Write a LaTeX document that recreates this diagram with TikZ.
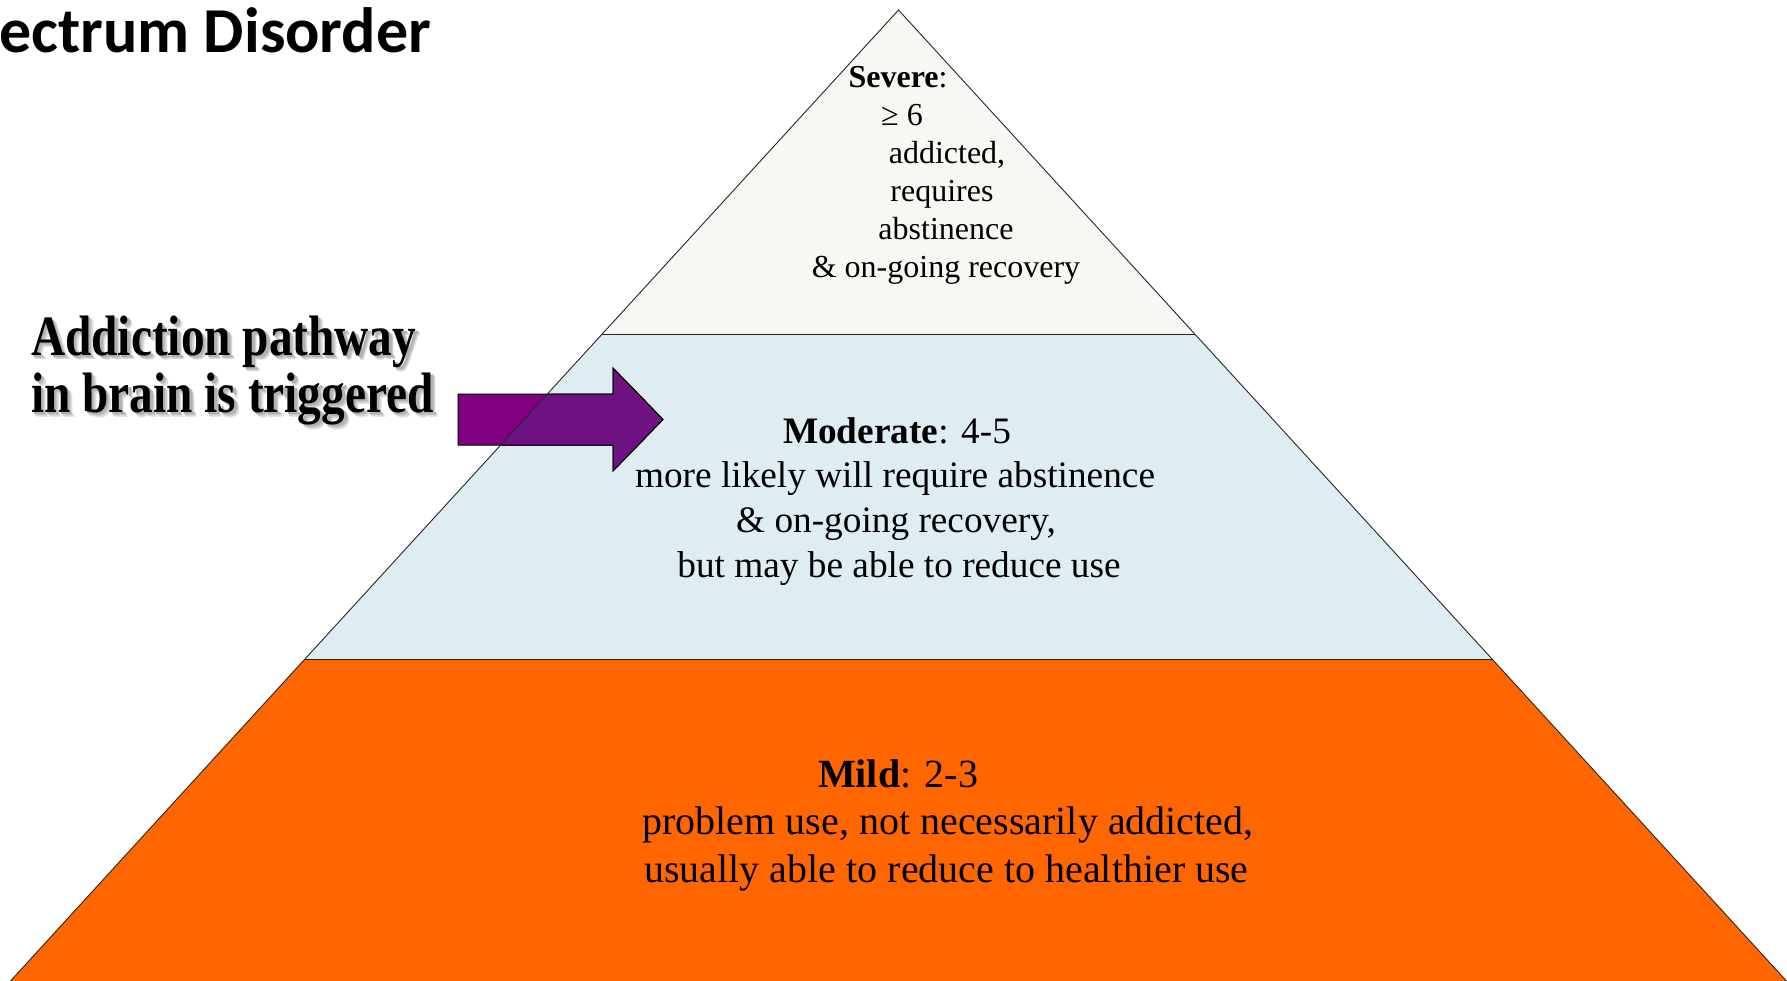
\documentclass[tikz,border=0pt]{standalone}
\usepackage{fontspec}
\setmainfont{Liberation Serif}
\newfontfamily\titlefont{Carlito}
\newfontfamily\condbold[FakeStretch=0.83]{Liberation Serif Bold}
\definecolor{sevfill}{HTML}{F8F7F3}
\definecolor{modfill}{HTML}{DEEDF2}
\definecolor{mildfill}{HTML}{FF6600}
\definecolor{arrowout}{HTML}{800080}
\definecolor{arrowin}{HTML}{6F1281}
\newcommand{\shadowlayer}[4]{\makebox[0pt][l]{\hspace{#1pt}\raisebox{-#2pt}{\textcolor{#3}{#4}}}}
\newcommand{\softshadowed}[1]{%
  \shadowlayer{5}{5}{black!10}{#1}%
  \shadowlayer{4}{4.5}{black!15}{#1}%
  \shadowlayer{3.5}{3.5}{black!22}{#1}%
  \shadowlayer{2.5}{2.5}{black!30}{#1}%
  #1}
\tikzset{
  edge/.style={draw=black!85, line width=0.9pt},
  txt/.style={inner sep=0pt, anchor=base},
  sevtxt/.style={txt, font=\fontsize{32}{38}\selectfont},
  modtxt/.style={txt, font=\fontsize{37.3}{45}\selectfont},
  mildtxt/.style={txt, font=\fontsize{40}{48}\selectfont},
  lefttxt/.style={inner sep=0pt, anchor=base west, font=\condbold\fontsize{57}{57}\selectfont},
  arrowline/.style={draw=black, line width=1pt, line join=miter},
}
\begin{document}
\begin{tikzpicture}[x=1pt,y=-1pt]
\useasboundingbox (0,0) rectangle (1787,981);
\clip (0,0) rectangle (1787,981);
\fill[white] (0,0) rectangle (1787,981);
% pyramid corners
\coordinate (A)  at (898.5,10);
\coordinate (L1) at (602.2,334);
\coordinate (R1) at (1194.8,334);
\coordinate (L2) at (305,659);
\coordinate (R2) at (1492,659);
\coordinate (L3) at (2.3,990);
\coordinate (R3) at (1794.7,990);
% fills
\fill[sevfill]  (A) -- (R1) -- (L1) -- cycle;
\fill[modfill]  (L1) -- (R1) -- (R2) -- (L2) -- cycle;
\fill[mildfill] (L2) -- (R2) -- (R3) -- (L3) -- cycle;
% block arrow
\filldraw[fill=arrowout, arrowline] (458,394) -- (613,394) -- (613,368) -- (663,419.5) -- (613,471) -- (613,445) -- (458,445) -- cycle;
\begin{scope}
  \clip (A) -- (R3) -- (L3) -- cycle;
  \filldraw[fill=arrowin, arrowline] (458,394) -- (613,394) -- (613,368) -- (663,419.5) -- (613,471) -- (613,445) -- (458,445) -- cycle;
\end{scope}
% edges
\draw[edge] (L3) -- (A) -- (R3);
\draw[edge] (L1) -- (R1);
\draw[edge] (L2) -- (R2);
% title
\node[inner sep=0pt, anchor=base west, font=\titlefont\bfseries\fontsize{64}{64}\selectfont] (title) at (-1,53) {ectrum Disorder};
% left label with soft shadow
\node[lefttxt] (a1) at (31,355) {\softshadowed{Addiction pathway}};
\node[lefttxt] (a2) at (31,412) {\softshadowed{in brain is triggered}};
% severe
\node[sevtxt] (s1) at (898,88) {\textbf{Severe}:};
\node[sevtxt] (s2) at (902,126) {≥ 6};
\node[sevtxt] (s3) at (947,164) {addicted,};
\node[sevtxt] (s4) at (942,202) {requires};
\node[sevtxt] (s5) at (946,240) {abstinence};
\node[sevtxt] (s6) at (946,278) {\& on-going recovery};
% moderate
\node[modtxt] (m1) at (897,443) {\textbf{Moderate}: 4-5};
\node[modtxt] (m2) at (895,487) {more likely will require abstinence};
\node[modtxt] (m3) at (896,532) {\& on-going recovery,};
\node[modtxt] (m4) at (899,577) {but may be able to reduce use};
% mild
\node[mildtxt] (w1) at (898,787) {\textbf{Mild}: 2-3};
\node[mildtxt] (w2) at (948,834) {problem use, not necessarily addicted,};
\node[mildtxt] (w3) at (946.5,882) {usually able to reduce to healthier use};
\end{tikzpicture}
\end{document}
